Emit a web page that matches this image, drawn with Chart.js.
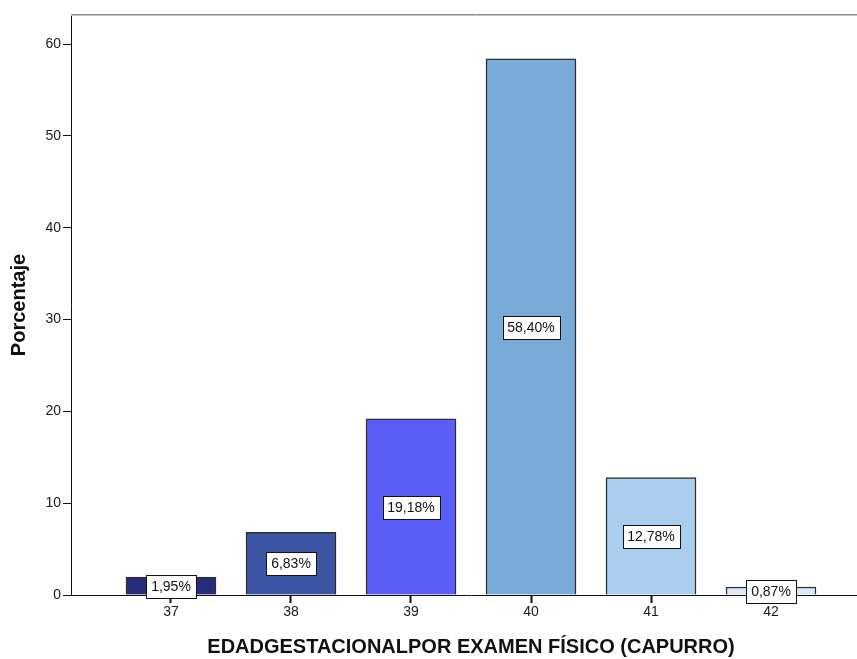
<!DOCTYPE html>
<html>
<head>
<meta charset="utf-8">
<script src="https://cdn.jsdelivr.net/npm/chart.js@4"></script>
<style>
    html, body { margin: 0; padding: 0; overflow: hidden; background: #fff; }
    #wrap { position: relative; width: 880px; height: 659px; }
</style>
</head>
<body>
<div id="wrap"><canvas id="barChart" width="880" height="659"></canvas></div>
<script>
const categories = [37, 38, 39, 40, 41, 42];
const percentages = [1.95, 6.83, 19.18, 58.40, 12.78, 0.87];
const yTickValues = [0, 10, 20, 30, 40, 50, 60];
const xTitle = 'EDADGESTACIONALPOR EXAMEN FÍSICO (CAPURRO)';
const yTitle = 'Porcentaje';

const barColors = ['#262b7a', '#3c55a5', '#5a5ef7', '#7aaad7', '#abcdee', '#dce9f8'];
const fontFamily = '"Liberation Sans", Arial, sans-serif';

// white boxes with the percentage in the middle of each bar
const valueBoxes = {
    id: 'valueBoxes',
    afterDatasetsDraw(chart) {
        const ctx = chart.ctx;
        const meta = chart.getDatasetMeta(0);
        ctx.save();
        ctx.font = '14px ' + fontFamily;
        ctx.textAlign = 'center';
        ctx.textBaseline = 'middle';
        meta.data.forEach((bar, i) => {
            const text = percentages[i].toFixed(2).replace('.', ',') + '%';
            const w = Math.round(ctx.measureText(text).width + 10);
            const h = 23;
            const cx = Math.round(bar.x);
            const cy = Math.round((bar.y + bar.base) / 2);
            const x0 = Math.round(cx - w / 2) + 0.5;
            const y0 = Math.round(cy - h / 2) + 0.5;
            ctx.fillStyle = '#fff';
            ctx.fillRect(x0, y0, w, h);
            ctx.strokeStyle = '#111';
            ctx.lineWidth = 1;
            ctx.strokeRect(x0, y0, w, h);
            ctx.fillStyle = '#111';
            ctx.fillText(text, cx, cy + 1);
        });
        ctx.restore();
    }
};

// grey frame line along the top of the plot area
const topFrame = {
    id: 'topFrame',
    afterDraw(chart) {
        const a = chart.chartArea;
        const ctx = chart.ctx;
        ctx.save();
        ctx.strokeStyle = '#8c8c8c';
        ctx.lineWidth = 1;
        ctx.beginPath();
        ctx.moveTo(a.left, a.top - 0.5);
        ctx.lineTo(chart.width, a.top - 0.5);
        ctx.stroke();
        ctx.strokeStyle = '#c4c4c4';
        ctx.beginPath();
        ctx.moveTo(a.left, a.top + 0.5);
        ctx.lineTo(chart.width, a.top + 0.5);
        ctx.stroke();
        ctx.restore();
    }
};

const data = {
    datasets: [{
        label: yTitle,
        data: categories.map((c, i) => ({ x: c, y: percentages[i] })),
        backgroundColor: barColors,
        borderColor: '#2e2e2e',
        borderWidth: 1.5,
        barThickness: 90
    }]
};

const config = {
    type: 'bar',
    data: data,
    options: {
        responsive: false,
        animation: false,
        layout: { padding: { top: 15, right: 9, left: 0, bottom: 0 } },
        plugins: {
            legend: { display: false },
            tooltip: { enabled: false }
        },
        scales: {
            x: {
                type: 'linear',
                offset: false,
                min: 36.1667,
                max: 42.8333,
                afterBuildTicks: s => { s.ticks = categories.map(v => ({ value: v })); },
                afterFit: s => { s.height = 64; },
                grid: { display: true, offset: false, drawOnChartArea: false, drawTicks: true, tickLength: 8, color: '#111', tickColor: '#111', tickWidth: 2 },
                border: { display: true, color: '#111', width: 1 },
                ticks: { color: '#1a1a1a', padding: 1, font: { family: fontFamily, size: 14 }, maxRotation: 0 },
                title: { display: true, text: xTitle, color: '#111', padding: { top: 0, bottom: 0 }, font: { family: fontFamily, size: 20, weight: 'bold' } }
            },
            y: {
                min: 0,
                max: 63.16,
                afterBuildTicks: s => { s.ticks = yTickValues.map(v => ({ value: v })); },
                afterFit: s => { s.width = 71; },
                grid: { display: true, drawOnChartArea: false, drawTicks: true, tickLength: 8, color: '#111', tickWidth: 1 },
                border: { display: true, color: '#111', width: 1 },
                ticks: { color: '#1a1a1a', padding: 2, font: { family: fontFamily, size: 14 } },
                title: { display: true, text: yTitle, color: '#111', padding: { top: 7, bottom: 0 }, font: { family: fontFamily, size: 20, weight: 'bold' } }
            }
        }
    },
    plugins: [valueBoxes, topFrame]
};

var myChart = new Chart(document.getElementById('barChart'), config);
</script>
</body>
</html>
